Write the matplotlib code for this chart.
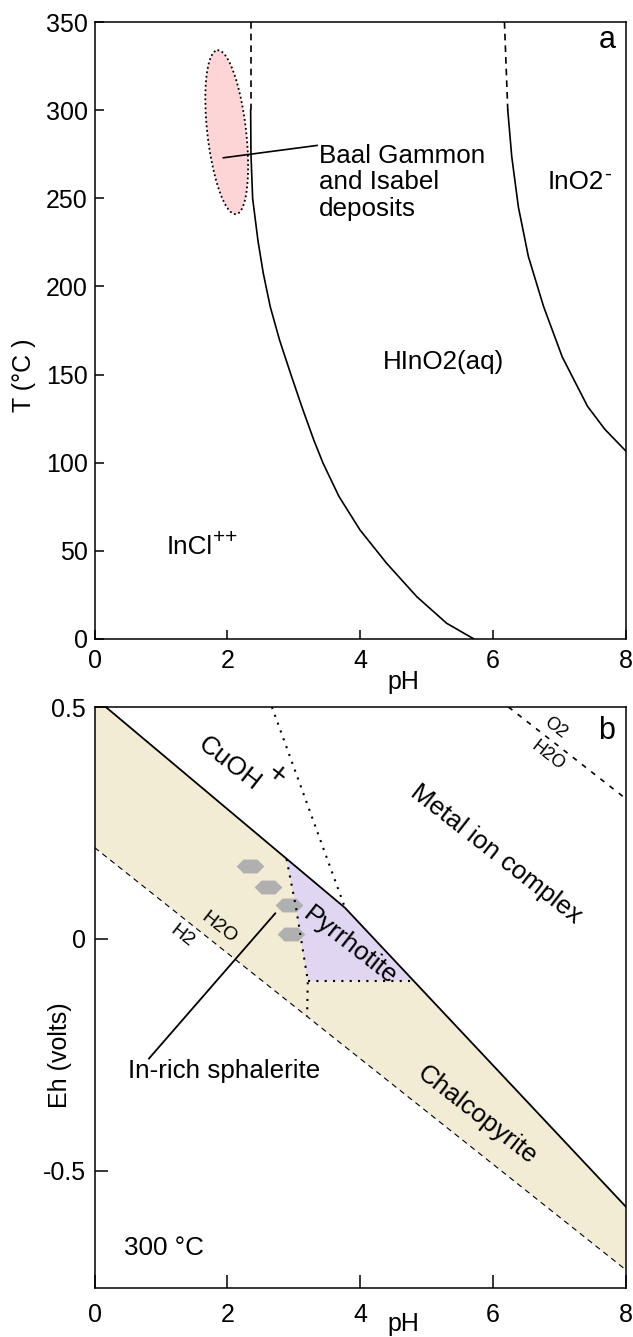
import numpy as np
import matplotlib
matplotlib.use("Agg")
import matplotlib.pyplot as plt
from matplotlib.patches import Polygon

plt.rcParams['font.family'] = ['Liberation Sans', 'DejaVu Sans']
plt.rcParams['axes.unicode_minus'] = False

# ---- panel a: T vs pH ----
T_LEFT = [300, 275, 250, 226, 207.5, 188.5, 169.6, 150.7, 131.8, 112.9, 99.7, 80.8,
          61.9, 43, 24, 8.9, 0]
PH_LEFT = [2.35, 2.355, 2.38, 2.46, 2.54, 2.645, 2.785, 2.95, 3.12, 3.30, 3.44, 3.68,
           3.995, 4.395, 4.85, 5.30, 5.71]
T_RIGHT = [300, 273.6, 245, 217, 188.5, 160, 132, 119, 106.5]
PH_RIGHT = [6.22, 6.28, 6.38, 6.53, 6.76, 7.04, 7.42, 7.68, 8.0]
T_DASH = [350, 300]
PH_DASH_LEFT = [2.35, 2.35]
PH_DASH_RIGHT = [6.17, 6.22]

# Baal Gammon / Isabel field (centre, half major axis, half minor axis)
DEPOSIT_CENTER = (1.99, 287.5)
DEPOSIT_MAJOR = (-0.14, 46.5)
DEPOSIT_MINOR = (0.29, 1.24)

# ---- panel b: Eh vs pH at 300 C ----
UPPER_PH = [0.17, 3.77, 8.0]
UPPER_EH = [0.5, 0.067, -0.578]
H2O_LOW_PH = [0.0, 8.0]
H2O_LOW_EH = [0.197, -0.714]
H2O_HIGH_PH = [6.23, 8.0]
H2O_HIGH_EH = [0.5, 0.302]
CUOH_PH = [2.67, 3.77]
CUOH_EH = [0.5, 0.067]
PYR_PH = [2.89, 3.77, 4.80, 3.21, 3.03]
PYR_EH = [0.172, 0.067, -0.09, -0.09, 0.070]
PYR_LEFT_PH = [2.89, 3.03, 3.21, 3.20]
PYR_LEFT_EH = [0.172, 0.070, -0.09, -0.167]
PYR_BOTTOM_PH = [3.21, 4.80]
PYR_BOTTOM_EH = [-0.09, -0.09]
CHALCO_PH = [0.0, 0.17, 3.77, 8.0, 8.0, 0.0]
CHALCO_EH = [0.5, 0.5, 0.067, -0.578, -0.714, 0.197]
HEX_PH = [2.34, 2.61, 2.92, 2.96]
HEX_EH = [0.157, 0.111, 0.072, 0.011]

TAN = '#f3ecd5'
PURPLE = '#e0d6f1'
PINK = '#fdd5d6'
GREY = '#b0b0b0'
FS = 18.7

fig = plt.figure(figsize=(6.33, 13.37), dpi=100)
ax1 = fig.add_axes([0.1493, 0.5221, 0.8397, 0.4614])
ax2 = fig.add_axes([0.1493, 0.0366, 0.8397, 0.4346])

for ax in (ax1, ax2):
    for s in ax.spines.values():
        s.set_linewidth(1.1)
    ax.set_xlim(0, 8)
    ax.set_xticks([0, 2, 4, 6, 8])


def sup(ax, base, text, size=14, frac=(1.0, 0.92)):
    # superscript placed just after the end of a text artist
    ax.annotate(text, xy=frac, xycoords=base, ha='left', va='center', fontsize=size)


# panel a
ax1.set_ylim(0, 350)
ax1.set_yticks(range(0, 351, 50))
ax1.tick_params(direction='in', length=6.5, width=1.1, labelsize=18)
ax1.tick_params(axis='x', pad=7)
ax1.tick_params(axis='y', pad=5)

t = np.linspace(0, 2 * np.pi, 200)
ex = DEPOSIT_CENTER[0] + DEPOSIT_MAJOR[0] * np.cos(t) + DEPOSIT_MINOR[0] * np.sin(t)
ey = DEPOSIT_CENTER[1] + DEPOSIT_MAJOR[1] * np.cos(t) + DEPOSIT_MINOR[1] * np.sin(t)
ax1.fill(ex, ey, color=PINK, lw=0)
ax1.plot(ex, ey, color='k', lw=1.3, ls=(0, (1, 1.5)))

ax1.plot(PH_LEFT, T_LEFT, color='k', lw=1.2)
ax1.plot(PH_RIGHT, T_RIGHT, color='k', lw=1.2)
ax1.plot(PH_DASH_LEFT, T_DASH, color='k', lw=1.2, ls=(0, (4, 3)))
ax1.plot(PH_DASH_RIGHT, T_DASH, color='k', lw=1.2, ls=(0, (4, 3)))

ax1.plot([1.94, 3.35], [273, 280], color='k', lw=1.2)
ax1.text(3.38, 259, 'Baal Gammon\nand Isabel\ndeposits', fontsize=FS,
         ha='left', va='center', linespacing=1.15)
ino2 = ax1.text(6.82, 259, 'InO2', fontsize=FS, ha='left', va='center')
sup(ax1, ino2, '-', size=15, frac=(1.0, 0.85))
ax1.text(5.25, 157, 'HInO2(aq)', fontsize=FS, ha='center', va='center')
incl = ax1.text(1.09, 52, 'InCl', fontsize=FS, ha='left', va='center')
sup(ax1, incl, '++', size=15, frac=(1.0, 0.92))
ax1.text(7.71, 340, 'a', fontsize=22, ha='center', va='center')

ax1.set_xlabel('pH', fontsize=18)
ax1.xaxis.set_label_coords(0.582, -0.070)
ax1.xaxis.label.set_va('center')
ax1.set_ylabel('T (°C )', fontsize=18)
ax1.yaxis.set_label_coords(-0.132, 0.427)
ax1.yaxis.label.set_va('center')

# panel b
ax2.set_ylim(-0.753, 0.5)
ax2.set_yticks([-0.5, 0, 0.5])
ax2.set_yticklabels(['-0.5', '0', '0.5'])
ax2.tick_params(direction='in', length=9.5, width=1.1, labelsize=18)
ax2.tick_params(axis='x', pad=11)
ax2.tick_params(axis='y', pad=6)

ax2.add_patch(Polygon(np.column_stack([CHALCO_PH, CHALCO_EH]), closed=True,
                      facecolor=TAN, edgecolor='none'))
ax2.add_patch(Polygon(np.column_stack([PYR_PH, PYR_EH]), closed=True,
                      facecolor=PURPLE, edgecolor='none'))

hexagon = [(-1, 0), (-0.5, 0.5), (0.5, 0.5), (1, 0), (0.5, -0.5), (-0.5, -0.5)]
ax2.plot(HEX_PH, HEX_EH, ls='none', marker=hexagon, markersize=20,
         markerfacecolor=GREY, markeredgecolor='none')

ax2.plot(UPPER_PH, UPPER_EH, color='k', lw=1.3)
ax2.plot(H2O_LOW_PH, H2O_LOW_EH, color='k', lw=0.8, ls=(0, (5, 4)))
ax2.plot(H2O_HIGH_PH, H2O_HIGH_EH, color='k', lw=1.2, ls=(0, (3, 4)))
ax2.plot(CUOH_PH, CUOH_EH, color='k', lw=1.5, ls=(0, (1, 3)))
ax2.plot(PYR_LEFT_PH, PYR_LEFT_EH, color='k', lw=1.5, ls=(0, (1, 3)))
ax2.plot(PYR_BOTTOM_PH, PYR_BOTTOM_EH, color='k', lw=1.5, ls=(0, (1, 3)))

ax2.plot([2.72, 0.82], [0.055, -0.258], color='k', lw=1.3)
ax2.text(0.50, -0.284, 'In-rich sphalerite', fontsize=FS, ha='left', va='center')

rot = dict(rotation=-38, rotation_mode='anchor', ha='center', va='center')
ax2.text(2.03, 0.378, 'CuOH', fontsize=FS, **rot)
ax2.text(2.74, 0.353, '+', fontsize=21, **rot)
ax2.text(6.04, 0.182, 'Metal ion complex', fontsize=FS, **rot)
ax2.text(3.85, -0.015, 'Pyrrhotite', fontsize=FS, **rot)
ax2.text(5.75, -0.381, 'Chalcopyrite', fontsize=FS, **rot)
ax2.text(1.88, 0.024, 'H2O', fontsize=14, **rot)
ax2.text(1.32, 0.005, 'H2', fontsize=14, **rot)
ax2.text(6.94, 0.455, 'O2', fontsize=13, **rot)
ax2.text(6.83, 0.394, 'H2O', fontsize=13, **rot)
ax2.text(7.71, 0.449, 'b', fontsize=22, ha='center', va='center')
ax2.text(0.45, -0.667, '300 °C', fontsize=FS, ha='left', va='center')

ax2.set_xlabel('pH', fontsize=18)
ax2.xaxis.set_label_coords(0.582, -0.062)
ax2.xaxis.label.set_va('center')
ax2.set_ylabel('Eh (volts)', fontsize=18)
ax2.yaxis.set_label_coords(-0.065, 0.401)
ax2.yaxis.label.set_va('center')

fig.savefig('out.png', dpi=100)
